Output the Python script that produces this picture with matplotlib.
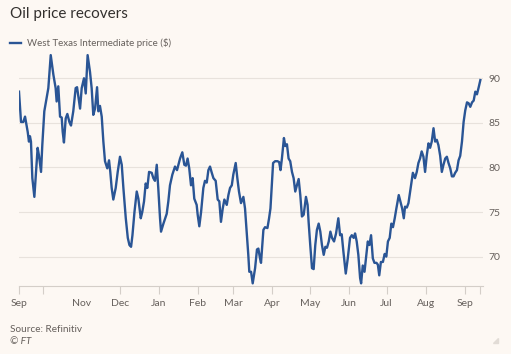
import matplotlib
matplotlib.use("Agg")
import matplotlib.pyplot as plt
import pandas as pd

# WTI price: days after 12 Sep 2022, price in $
days = [0.0, 1.6, 3.4, 4.8, 6.9, 7.9, 8.7, 9.5, 10.6, 12.2, 13.2, 14.8, 15.9, 17.5, 18.5,
        20.1, 21.2, 23.3, 25.2, 27.3, 29.1, 29.9, 31.2, 32.6, 33.9, 34.7, 35.7, 37.1, 38.4,
        40.0, 41.3, 43.1, 45.0, 46.1, 48.5, 49.8, 51.6, 53.0, 54.5, 56.4, 57.7, 59.0, 60.4,
        62.0, 63.0, 64.3, 65.7, 67.0, 68.3, 70.1, 71.5, 72.5, 73.6, 74.9, 76.8, 78.4, 80.2,
        81.6, 82.9, 84.8, 86.4, 87.7, 89.0, 90.1, 91.7, 93.5, 94.8, 96.7, 97.9, 99.3, 100.6,
        101.9, 103.3, 105.4, 106.7, 108.0, 109.4, 110.6, 112.0, 112.8, 114.7, 117.3, 118.6,
        119.9, 121.8, 123.9, 125.5, 127.9, 129.7, 131.3, 132.6, 133.9, 135.2, 136.6, 137.9,
        139.2, 141.1, 141.9, 143.2, 144.6, 146.4, 147.7, 149.1, 150.4, 151.7, 153.1, 154.4,
        156.2, 157.8, 159.1, 160.4, 161.8, 163.1, 165.0, 166.3, 167.6, 169.0, 170.2, 172.1,
        173.4, 174.7, 176.3, 178.2, 179.5, 180.8, 182.1, 182.9, 184.3, 185.6, 187.5, 189.0,
        190.1, 191.4, 192.2, 194.1, 195.4, 197.3, 198.6, 199.7, 200.8, 201.8, 203.4, 205.3,
        206.6, 207.7, 208.8, 210.4, 211.5, 212.8, 214.1, 215.4, 216.8, 218.1, 219.4, 220.7,
        222.1, 223.4, 224.7, 226.1, 227.9, 229.2, 230.0, 231.3, 232.7, 234.0, 235.3, 236.6,
        238.0, 239.3, 240.6, 242.0, 243.3, 244.6, 246.0, 247.3, 248.6, 250.2, 251.8, 253.6,
        255.0, 256.3, 257.6, 259.5, 261.1, 262.9, 264.3, 265.8, 266.9, 268.2, 269.5, 270.9,
        271.7, 273.0, 274.4, 275.7, 277.0, 278.3, 279.6, 281.0, 282.3, 283.9, 285.0, 286.1,
        287.4, 289.0, 290.4, 291.7, 293.0, 294.4, 295.7, 297.0, 298.4, 299.7, 301.6, 302.9,
        304.3, 305.6, 306.6, 308.0, 309.3, 311.4, 312.8, 314.5, 315.9, 317.2, 318.5, 319.8,
        321.2, 322.5, 323.8, 325.2, 326.5, 327.8, 329.2, 330.5, 331.8, 333.1, 334.5, 335.8,
        337.1, 338.5, 339.8, 341.1, 342.5, 343.8, 345.1, 346.4, 347.8, 349.1, 350.4, 351.8,
        353.1, 354.4, 355.8, 357.1, 358.4, 359.8, 361.1, 362.4, 363.7, 365.1, 366.4]
prices = [88.5, 85.1, 85.1, 85.7, 84.0, 82.9, 83.5, 82.9, 78.8, 76.7, 78.8, 82.2, 81.3, 79.5, 82.5,
          86.3, 87.2, 88.9, 92.6, 90.4, 88.9, 87.4, 89.1, 85.7, 85.6, 84.0, 82.8, 85.5, 86.0,
          85.1, 84.7, 86.3, 88.9, 89.0, 86.6, 88.9, 90.0, 88.3, 92.6, 90.7, 88.9, 85.9, 86.6,
          89.0, 86.3, 86.9, 85.7, 82.9, 80.7, 79.9, 80.8, 79.5, 77.7, 76.4, 77.7, 79.5, 81.2,
          80.3, 77.7, 74.3, 72.1, 71.3, 71.1, 72.4, 75.0, 77.3, 76.5, 74.3, 75.0, 76.2, 78.2,
          77.7, 79.5, 79.4, 78.8, 78.5, 80.3, 77.7, 74.3, 72.8, 73.7, 74.8, 76.2,
          78.0, 79.2, 80.1, 79.7, 81.0, 81.7, 80.3, 80.2, 81.0, 79.9, 78.0, 78.8,
          76.5, 75.8, 74.7, 73.4, 75.0, 77.7, 78.5, 78.3, 79.7, 80.1, 79.4, 78.8,
          78.5, 76.4, 76.2, 73.9, 75.4, 76.4, 75.8, 76.9, 77.7, 78.0, 79.2, 80.5,
          78.8, 77.3, 76.0, 76.7, 75.4, 72.8, 70.2, 68.3, 68.3, 67.0, 68.7, 70.8,
          70.9, 69.8, 69.3, 73.0, 73.3, 73.2, 74.3, 75.4, 78.0, 80.5, 80.7, 80.7,
          80.6, 79.7, 81.0, 83.3, 82.4, 82.6, 81.0, 80.7, 79.5, 78.8, 77.3, 78.0,
          78.7, 76.9, 74.5, 74.7, 76.7, 75.8, 73.9, 71.3, 68.7, 68.6, 71.3, 73.0,
          73.7, 72.8, 71.3, 70.2, 71.1, 71.0, 71.7, 72.8, 72.1, 71.7, 72.6, 74.3,
          72.4, 72.5, 70.6, 68.1, 69.8, 72.1, 72.4, 72.1, 72.6, 71.7, 70.2, 67.6,
          67.0, 69.0, 68.3, 70.0, 71.7, 71.3, 72.4, 69.8, 69.3, 69.3, 69.1, 67.9,
          69.4, 69.4, 70.3, 70.0, 71.7, 72.1, 73.7, 73.3, 74.3, 75.4, 76.9, 76.2,
          75.4, 74.3, 75.6, 75.5, 76.0, 78.0, 79.4, 78.8, 79.5, 80.5, 81.0, 81.8,
          81.2, 79.5, 81.3, 82.7, 82.2, 82.9, 84.4, 82.9, 83.1, 82.5, 81.3, 79.5,
          80.3, 81.0, 81.2, 80.5, 79.9, 79.0, 79.0, 79.4, 79.7, 80.8, 81.3, 82.9,
          85.1, 86.4, 87.3, 87.2, 86.8, 87.3, 87.5, 88.5, 88.2, 89.0, 89.8]

start = pd.Timestamp("2022-09-12")
tick_dates = ["2022-09-12", "2022-10-01", "2022-11-01", "2022-12-01", "2023-01-01",
              "2023-02-01", "2023-03-01", "2023-04-01", "2023-05-01", "2023-06-01",
              "2023-07-01", "2023-08-01", "2023-09-01", "2023-09-13"]
tick_labels = ["Sep", "", "Nov", "Dec", "Jan", "Feb", "Mar", "Apr", "May", "Jun",
               "Jul", "Aug", "Sep", ""]
yticks = [70, 75, 80, 85, 90]

plt.rcParams["font.family"] = ["Lato", "DejaVu Sans"]

bg = "#fdf8f3"
grey = "#66605c"
blue = "#2a5595"

dates = start + pd.to_timedelta(days, unit="D")

fig = plt.figure(figsize=(5.11, 3.54), dpi=100, facecolor=bg)
ax = fig.add_axes([19 / 511, 0.192, 464 / 511, 0.675])
ax.set_facecolor(bg)

ax.plot(dates, prices, color=blue, lw=1.7, solid_joinstyle="round")

ax.set_xlim(start, start + pd.Timedelta(days=368.5))
ax.set_ylim(66.7, 93.5)

ax.set_yticks(yticks)
ax.yaxis.tick_right()
ax.tick_params(axis="y", length=0, pad=4, labelsize=7.5, labelcolor=grey)
ax.grid(axis="y", color="#e8e2dc", lw=0.8)

ax.set_xticks(pd.to_datetime(tick_dates))
ax.set_xticklabels(tick_labels)
ax.tick_params(axis="x", direction="out", length=6, width=0.8, color="#d4cec8",
               labelsize=7.5, labelcolor=grey, pad=3)
# no tick mark under Nov in the original
ax.xaxis.get_major_ticks()[2].tick1line.set_visible(False)

for s in ["top", "left", "right"]:
    ax.spines[s].set_visible(False)
ax.spines["bottom"].set_color("#d4cec8")
ax.spines["bottom"].set_linewidth(0.8)

fig.text(10 / 511, 1 - 14 / 354, "Oil price recovers", fontsize=11, color="#33302e",
         va="center", ha="left")
fig.lines.append(plt.Line2D([10 / 511, 21 / 511], [1 - 43 / 354, 1 - 43 / 354],
                            color=blue, lw=1.7, transform=fig.transFigure))
fig.text(27 / 511, 1 - 43 / 354, "West Texas Intermediate price ($)", fontsize=7,
         color=grey, va="center", ha="left")
fig.text(10 / 511, 1 - 329 / 354, "Source: Refinitiv", fontsize=7.2, color=grey,
         va="center", ha="left")
fig.text(10 / 511, 1 - 342 / 354, "© FT", fontsize=7.2, color=grey, style="italic",
         va="center", ha="left")

# faint corner mark, bottom right
fig.patches.append(plt.Polygon([[493 / 511, 1 - 343 / 354], [498 / 511, 1 - 343 / 354],
                                [498 / 511, 1 - 338 / 354]], closed=True,
                               color="#e2dcd6", transform=fig.transFigure))

fig.savefig("out.png", dpi=100, facecolor=bg)
